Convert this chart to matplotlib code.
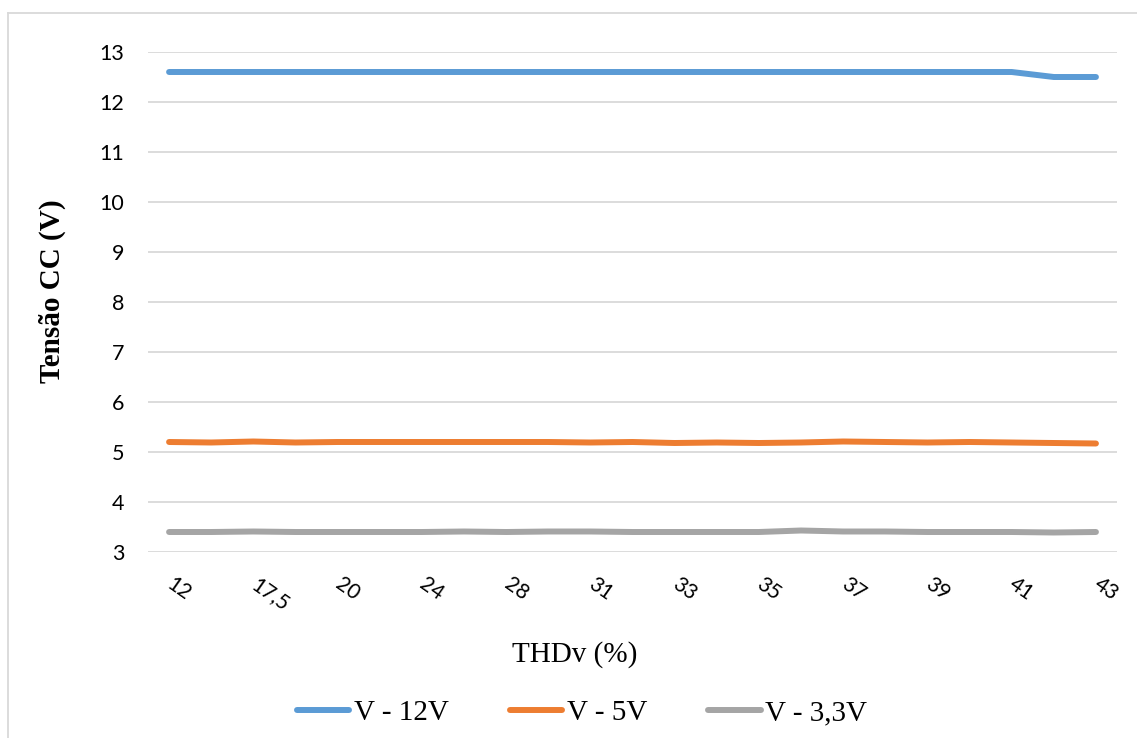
import matplotlib
matplotlib.use("Agg")
import matplotlib.pyplot as plt
from matplotlib.lines import Line2D

# THDv test points (every other one is labelled on the axis)
thd_labels = ["12", "15", "17,5", "18,5", "20", "22", "24", "26", "28", "30",
              "31", "32", "33", "34", "35", "36", "37", "38", "39", "40",
              "41", "42", "43"]

v12 = [12.6, 12.6, 12.6, 12.6, 12.6, 12.6, 12.6, 12.6, 12.6, 12.6,
       12.6, 12.6, 12.6, 12.6, 12.6, 12.6, 12.6, 12.6, 12.6, 12.6,
       12.6, 12.5, 12.5]
v5 = [5.20, 5.19, 5.21, 5.19, 5.20, 5.20, 5.20, 5.20, 5.20, 5.20,
      5.19, 5.20, 5.18, 5.19, 5.18, 5.19, 5.21, 5.20, 5.19, 5.20,
      5.19, 5.18, 5.17]
v33 = [3.40, 3.40, 3.41, 3.40, 3.40, 3.40, 3.40, 3.41, 3.40, 3.41,
       3.41, 3.40, 3.40, 3.40, 3.40, 3.43, 3.41, 3.41, 3.40, 3.40,
       3.40, 3.39, 3.40]

series_names = ["V - 12V", "V - 5V", "V - 3,3V"]
series_colors = ["#5B9BD5", "#ED7D31", "#A5A5A5"]

W, H = 1137, 738
fig = plt.figure(figsize=(W / 100, H / 100), dpi=100)
fig.patch.set_facecolor("white")

# chart-area border (top and left edges visible)
border = "#D9D9D9"
fig.add_artist(Line2D([8 / W, 1.0], [1 - 13 / H, 1 - 13 / H], color=border, lw=1.3))
fig.add_artist(Line2D([8 / W, 8 / W], [1 - 13 / H, 0.0], color=border, lw=1.3))

left, right, top, bottom = 148, 1117, 52, 552
ax = fig.add_axes([left / W, 1 - bottom / H, (right - left) / W, (bottom - top) / H])

x = list(range(len(thd_labels)))
for vals, name, col in zip([v12, v5, v33], series_names, series_colors):
    ax.plot(x, vals, color=col, lw=4.3, solid_capstyle="round",
            solid_joinstyle="round", label=name)

ax.set_xlim(-0.5, len(thd_labels) - 0.5)
ax.set_ylim(3, 13)
ax.set_yticks(range(3, 14))
ax.grid(axis="y", color="#D9D9D9", lw=1.3)
ax.set_axisbelow(True)
for s in ax.spines.values():
    s.set_visible(False)

tick_font = "Lato"
ax.tick_params(axis="y", length=0, pad=17, labelsize=15.5, labelcolor="#000000")
ax.set_yticklabels([str(v) for v in range(3, 14)], fontfamily=tick_font)

ax.set_xticks(x[::2])
ax.set_xticklabels(thd_labels[::2], fontfamily=tick_font, fontsize=15)
ax.tick_params(axis="x", length=0, pad=22)
for lbl in ax.get_xticklabels():
    lbl.set_rotation(-35)
    lbl.set_rotation_mode("anchor")
    lbl.set_ha("left")
    lbl.set_va("center")

serif = "Liberation Serif"
fig.text(52 / W, 1 - 291 / H, "Tensão CC (V)", rotation=90, ha="center",
         va="center", fontfamily=serif, fontweight="bold", fontsize=21)
fig.text(575 / W, 1 - 655 / H, "THDv (%)", ha="center", va="center",
         fontfamily=serif, fontsize=21)

fig.legend(loc="center", bbox_to_anchor=(582 / W, 1 - 713 / H), ncol=3,
           frameon=False, prop={"family": serif, "size": 21},
           handlelength=1.8, handletextpad=0.15, columnspacing=2.1)

fig.savefig("out.png", dpi=100, facecolor="white")
